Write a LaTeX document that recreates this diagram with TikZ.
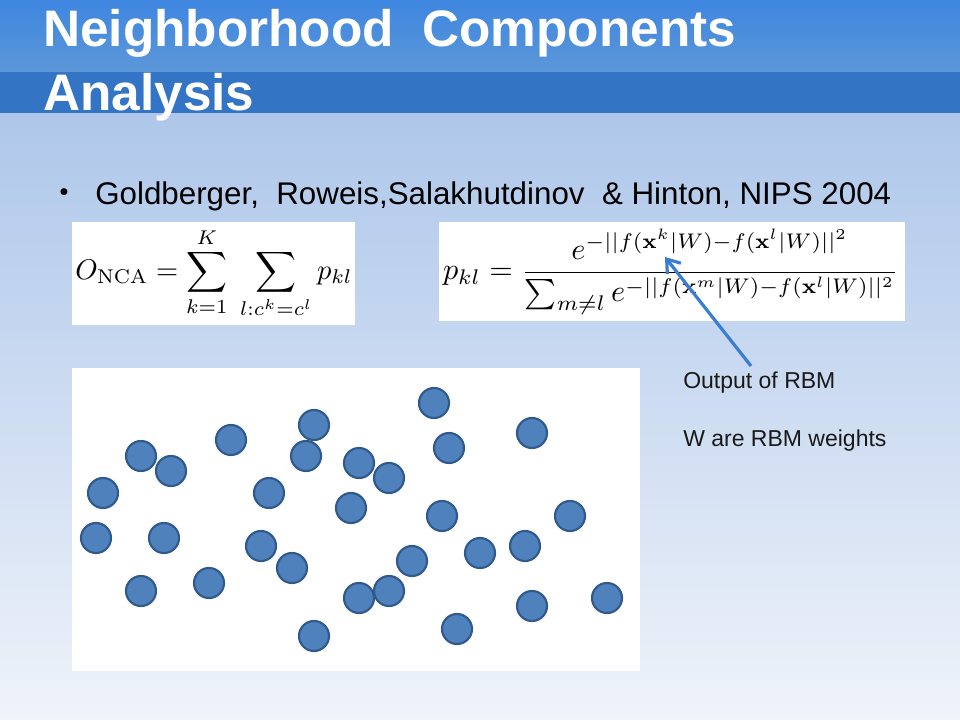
\documentclass[tikz,border=0pt]{standalone}
\usepackage[no-math]{fontspec}
\setmainfont{Liberation Sans}
\usepackage{amsmath}
\usepackage{amssymb}
\usetikzlibrary{arrows.meta}

\definecolor{bandtop}{HTML}{3E86E0}
\definecolor{bandlow}{HTML}{5C97D8}
\definecolor{banddark}{HTML}{3374C4}
\definecolor{backtop}{HTML}{AEC7EA}
\definecolor{backlow}{HTML}{EFF3FA}
\definecolor{dotfill}{HTML}{4F81BD}
\definecolor{dotline}{HTML}{30598C}
\definecolor{arrowblue}{HTML}{3A7DD3}

\begin{document}
\begin{tikzpicture}[x=0.75pt,y=-0.75pt]
\tikzstyle{every node}+=[inner sep=0pt]
\tikzstyle{dot}=[circle,fill=dotfill,draw=dotline,line width=1.6pt,minimum size=22.5pt]
\tikzstyle{note}=[anchor=base west,font=\fontsize{17.25}{20}\selectfont,text=black!90]
\tikzstyle{titletext}=[anchor=base west,font=\fontsize{38.5}{42}\selectfont\bfseries,text=white]
\useasboundingbox (0,0) rectangle (960,720);
% background and title bands
\shade [top color=backtop,bottom color=backlow] (0,113) rectangle (960,720);
\shade [top color=bandtop,bottom color=bandlow] (0,0) rectangle (960,72);
\fill [banddark] (0,72) rectangle (960,113);
\node [titletext] (title1) at (43,47) {Neighborhood\ \ Components};
\node [titletext] (title2) at (43,111) {Analysis};
% bullet
\node [font=\fontsize{19}{22}\selectfont] (bullet) at (64,195) {\textbullet};
\node [anchor=base west,font=\fontsize{23.5}{26}\selectfont] (cite) at (95,205) {Goldberger,\ \ Roweis,Salakhutdinov\ \ \& Hinton, NIPS 2004};
% formulas
\fill [white] (72,222) rectangle (355,325);
\fill [white] (439,222) rectangle (905,321);
\node (onca) at (214,273) {\resizebox{208pt}{!}{$\displaystyle O_{\mathrm{NCA}} = \sum_{k=1}^{K}\ \sum_{l:c^k=c^l} p_{kl}$}};
\node (pkl) at (671,272) {\resizebox{342pt}{!}{$\displaystyle p_{kl} = \frac{e^{-||f(\mathbf{x}^k|W)-f(\mathbf{x}^l|W)||^2}}{\sum_{m\neq l} e^{-||f(\mathbf{x}^m|W)-f(\mathbf{x}^l|W)||^2}}$}};
% notes
\node [note] (output) at (683,388) {Output of RBM};
\node [note] (weights) at (683,446) {W are RBM weights};
\coordinate (tail) at (751,366);
\coordinate (head) at (665,257);
\draw [arrowblue,line width=2.4pt,-{Straight Barb[length=9pt,width=13pt]}] (tail) -- (head);
% points
\fill [white] (72,368) rectangle (640,671);
\node [dot] (p1) at (434,403) {};
\node [dot] (p2) at (314,425) {};
\node [dot] (p3) at (532,433) {};
\node [dot] (p4) at (231,440) {};
\node [dot] (p5) at (141,456) {};
\node [dot] (p6) at (306,456) {};
\node [dot] (p7) at (449,448) {};
\node [dot] (p8) at (171,471) {};
\node [dot] (p9) at (359,463) {};
\node [dot] (p10) at (389,478) {};
\node [dot] (p11) at (103,493) {};
\node [dot] (p12) at (269,493) {};
\node [dot] (p13) at (351,508) {};
\node [dot] (p14) at (442,516) {};
\node [dot] (p15) at (570,516) {};
\node [dot] (p16) at (96,538) {};
\node [dot] (p17) at (164,538) {};
\node [dot] (p18) at (261,546) {};
\node [dot] (p19) at (525,546) {};
\node [dot] (p20) at (480,553) {};
\node [dot] (p21) at (412,561) {};
\node [dot] (p22) at (292,568) {};
\node [dot] (p23) at (141,591) {};
\node [dot] (p24) at (209,583) {};
\node [dot] (p25) at (389,591) {};
\node [dot] (p26) at (359,598) {};
\node [dot] (p27) at (532,606) {};
\node [dot] (p28) at (607,598) {};
\node [dot] (p29) at (457,629) {};
\node [dot] (p30) at (314,636) {};
\end{tikzpicture}
\end{document}
